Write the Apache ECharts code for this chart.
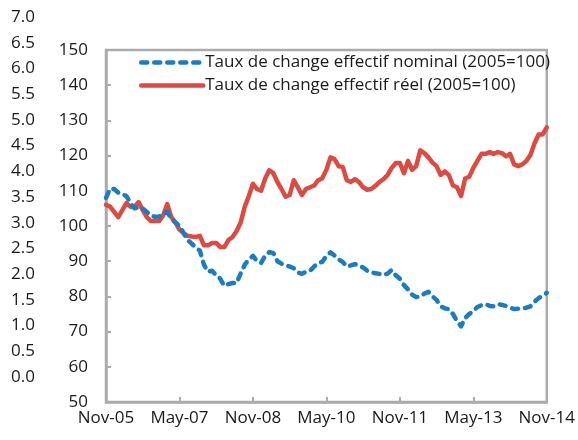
<!DOCTYPE html>
<html>
<head>
<meta charset="utf-8">
<script src="https://cdn.jsdelivr.net/npm/echarts@6/dist/echarts.min.js"></script>
<style>
  html, body { margin: 0; padding: 0; background: #fff; }
  #main { width: 578px; height: 440px; }
</style>
</head>
<body>
<div id="main"></div>
<script>
// monthly, Nov-05 .. Nov-14
var monthNames = ['Jan', 'Feb', 'Mar', 'Apr', 'May', 'Jun', 'Jul', 'Aug', 'Sep', 'Oct', 'Nov', 'Dec'];
var startYear = 2005, startMonth = 10;
var tickLabels = ['Nov-05', 'May-07', 'Nov-08', 'May-10', 'Nov-11', 'May-13', 'Nov-14'];

var nominal = [
    108, 110.5, 110.5, 109.5, 109, 108.5, 106.5, 105, 105.3, 105,
    104, 103, 102.6, 102.7, 103.5, 104, 102, 101, 100, 98,
    96, 95, 93.8, 93, 89, 87, 87.3, 86, 85, 83,
    83.5, 83.8, 83.8, 86.5, 89, 90.5, 91.5, 90, 89.5, 91.5,
    92.6, 92.3, 90, 89.3, 88.8, 88.5, 88, 86.8, 86.4, 87,
    87.3, 88.5, 89.5, 89.8, 91.5, 92.5, 91.6, 90.5, 89.8, 88.5,
    88.8, 89.2, 88.7, 88.2, 87.3, 86.8, 86.6, 86.4, 86.1, 86.5,
    87.5, 86, 85, 83.2, 82, 80.5, 79.8, 80, 80.8, 81.3,
    80, 79, 77.2, 76.6, 76.4, 75, 73, 71.5, 73.9, 75,
    75.8, 77, 77.5, 77.8, 77.3, 77.2, 77.8, 77.6, 77.3, 76.8,
    76.4, 76.5, 76.6, 76.8, 77.2, 78.5, 79.5, 80.2, 81
];
var real = [
    106, 105.5, 104, 102.5, 104.5, 106.5, 105.5, 105.5, 106.8, 104.5,
    102.5, 101.4, 101.4, 101.4, 103, 106.2, 102.5, 101, 99, 98,
    97.2, 97, 96.9, 97.2, 94.5, 94.5, 95.2, 95.2, 94, 94,
    96, 96.9, 98.6, 101, 105.5, 108.5, 112, 110.5, 110, 113.5,
    115.8, 115, 112.5, 110.5, 108.3, 108.8, 113, 111, 108.8, 110.5,
    111, 111.5, 113, 113.6, 116, 119.5, 119, 117, 116.8, 113,
    112.5, 113.3, 112.5, 111, 110.3, 110.5, 111.4, 112.5, 113.3, 114.5,
    116.5, 117.9, 117.9, 115, 118.5, 116, 117, 121.5, 120.7, 119.5,
    118, 117, 114.5, 115.5, 114.5, 111.5, 111, 108.5, 113.5, 114,
    116.5, 118.5, 120.5, 120.5, 121, 120.5, 121, 120.7, 119.8, 120.5,
    117.5, 117, 117.5, 118.5, 120.2, 123.5, 126, 126, 128
];

var categories = [];
for (var i = 0; i < nominal.length; i++) {
    var m = (startMonth + i) % 12;
    var y = startYear + Math.floor((startMonth + i) / 12);
    categories.push(monthNames[m] + '-' + String(y).slice(2));
}

var font = 'Open Sans';
var fs = 17;
var txt = '#1a1a1a';
var gray = '#ababab';

var chart = echarts.init(document.getElementById('main'));
var option = {
    animation: false,
    textStyle: { fontFamily: font },
    grid: [{
        left: 106, right: 30, top: 50, bottom: 38,
        show: true, borderColor: gray, borderWidth: 2.5
    }, {
        left: 38, width: 10, top: 17, bottom: 63
    }],
    legend: {
        orient: 'vertical',
        left: 134, top: 49,
        itemWidth: 62, itemHeight: 14, itemGap: 6,
        itemStyle: { opacity: 0 },
        lineStyle: { width: 4.5 },
        textStyle: { fontFamily: font, fontSize: fs, color: txt, padding: [0, 0, 0, -3] },
        data: ['Taux de change effectif nominal (2005=100)', 'Taux de change effectif réel (2005=100)']
    },
    xAxis: [{
        type: 'category',
        gridIndex: 0,
        boundaryGap: false,
        data: categories,
        axisLine: { lineStyle: { color: gray, width: 2.5 } },
        axisTick: { inside: true, length: 5, interval: 17, lineStyle: { color: gray, width: 2 } },
        axisLabel: {
            interval: function (idx, val) { return tickLabels.indexOf(val) >= 0; },
            margin: 8, fontFamily: font, fontSize: fs, color: txt, showMaxLabel: true
        },
        splitLine: { show: false }
    }, {
        type: 'category',
        gridIndex: 1,
        show: false,
        data: ['']
    }],
    yAxis: [{
        type: 'value',
        gridIndex: 0,
        min: 50, max: 150, interval: 10,
        axisLine: { show: true, lineStyle: { color: gray, width: 2.5 } },
        axisTick: { show: true, inside: true, length: 5, lineStyle: { color: gray, width: 2 } },
        axisLabel: { margin: 18, fontFamily: font, fontSize: fs, color: txt },
        splitLine: { show: false }
    }, {
        type: 'value',
        gridIndex: 1,
        min: 0, max: 7, interval: 0.5,
        axisLine: { show: false },
        axisTick: { show: false },
        axisLabel: {
            margin: 3, fontFamily: font, fontSize: fs, color: txt,
            formatter: function (v) { return v.toFixed(1); }
        },
        splitLine: { show: false }
    }],
    series: [{
        name: 'Taux de change effectif nominal (2005=100)',
        type: 'line',
        xAxisIndex: 0, yAxisIndex: 0,
        data: nominal,
        symbol: 'none',
        color: '#1b7cc3',
        lineStyle: { width: 4.5, type: [6, 7], cap: 'round', join: 'round', color: '#1b7cc3' },
        z: 3
    }, {
        name: 'Taux de change effectif réel (2005=100)',
        type: 'line',
        xAxisIndex: 0, yAxisIndex: 0,
        data: real,
        symbol: 'none',
        color: '#dd4a42',
        lineStyle: { width: 4.5, cap: 'round', join: 'round', color: '#dd4a42' },
        z: 2
    }]
};
chart.setOption(option);
</script>
</body>
</html>
